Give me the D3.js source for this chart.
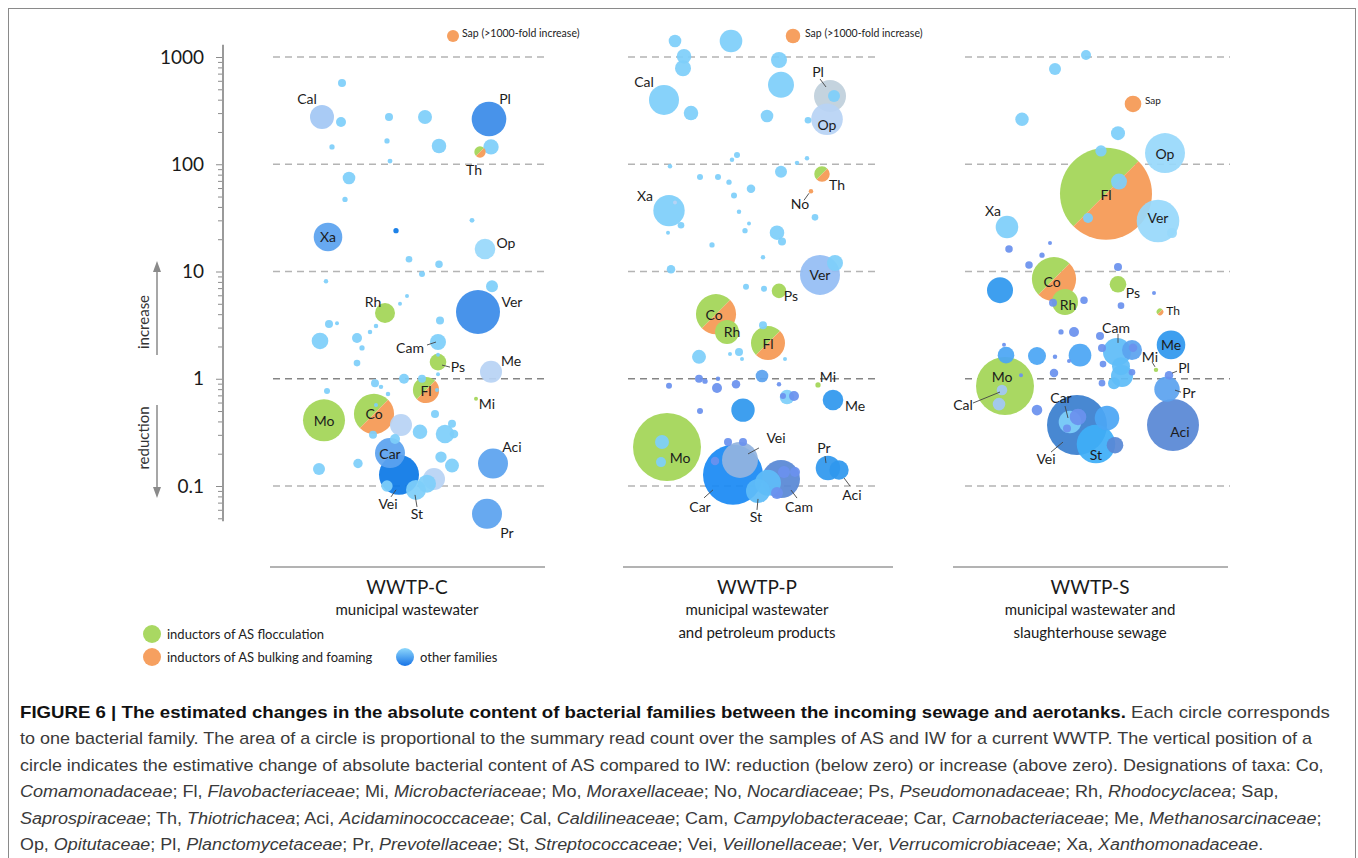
<!DOCTYPE html>
<html>
<head>
<meta charset="utf-8">
<script src="https://cdn.jsdelivr.net/npm/d3@7"></script>
<style>
  body { margin: 0; background: #fff; }
  svg { display: block; font-family: Lato, "Open Sans", sans-serif; }
</style>
</head>
<body>
<svg width="1358" height="858"></svg>
<script>
const svg = d3.select("svg");

// y axis ticks
const yTicks = [0.1, 1, 10, 100, 1000],
    yLabels = ["0.1", "1", "10", "100", "1000"];

const panelNames = ["WWTP-C", "WWTP-P", "WWTP-S"];
const panelSubs = [
    ["municipal wastewater"],
    ["municipal wastewater", "and petroleum products"],
    ["municipal wastewater and", "slaughterhouse sewage"]
];

// [family, horizontal slot, fold change, summary reads, group/tone]
const wwtpC = [
    ["Sap", 183, 1570, 36, "bulk"], ["", 72, 572, 16, "o1"], ["Cal", 52, 276, 144, "o4"],
    ["", 71, 248, 25, "o1"], ["", 62, 145, 7, "o1"], ["", 119, 276, 16, "o1"],
    ["", 117, 165, 7, "o1"], ["", 120, 107, 6, "o1"], ["", 155, 276, 49, "o1"],
    ["", 169, 148, 53, "o1"], ["Pl", 219, 264, 300, "o6"], ["Th", 210, 130, 32, "both"],
    ["", 221, 145, 59, "o1"], ["", 79, 74.5, 40, "o1"], ["", 75, 47, 7, "o1"],
    ["Xa", 58, 21, 204, "o5"], ["", 126, 24, 7, "o7"], ["", 202, 30, 6, "o1"],
    ["Op", 215, 16.2, 106, "o2"], ["", 139, 13, 11, "o1"], ["", 169, 11.7, 14, "o1"],
    ["", 152, 9.5, 9, "o1"], ["", 56, 8.1, 5, "o1"], ["", 222, 7.3, 36, "o1"],
    ["Rh", 115, 4.1, 100, "floc"], ["", 137, 5.9, 4, "o1"], ["", 130, 5.0, 4, "o1"],
    ["Ver", 208, 4.19, 484, "o6"], ["", 170, 3.5, 16, "o1"], ["", 59, 3.24, 16, "o1"],
    ["", 67, 3.3, 4, "o1"], ["", 106, 3.1, 5, "o1"], ["", 100, 2.73, 5, "o1"],
    ["", 50, 2.25, 69, "o1"], ["", 87, 2.4, 25, "o1"], ["Cam", 168, 2.2, 64, "o1"],
    ["", 92, 1.94, 7, "o1"], ["", 168, 1.67, 4, "o1"], ["Ps", 168, 1.43, 69, "floc"],
    ["", 87, 1.4, 11, "o1"], ["", 168, 1.1, 4, "o1"], ["Me", 221, 1.16, 121, "o3"],
    ["", 134, 1.0, 25, "o1"], ["", 152, 1.0, 16, "o1"], ["", 105, 0.91, 16, "o1"],
    ["", 111, 0.84, 5, "o1"], ["", 57, 0.77, 9, "o1"], ["Fl", 156, 0.785, 169, "both"],
    ["", 167, 0.785, 4, "o1"], ["", 118, 0.72, 5, "o1"], ["Mi", 206, 0.65, 4, "floc"],
    ["Mo", 54, 0.41, 441, "floc"], ["Co", 104, 0.47, 400, "both"], ["", 106, 0.57, 4, "o1"],
    ["", 165, 0.47, 16, "o1"], ["", 182, 0.38, 16, "o1"], ["", 131, 0.37, 121, "o3"],
    ["", 150, 0.32, 53, "o1"], ["", 175, 0.305, 86, "o1"], ["", 184, 0.305, 18, "o1"],
    ["", 103, 0.3, 16, "o1"], ["", 125, 0.274, 25, "o1"], ["Car", 120, 0.203, 225, "o5"],
    ["", 171, 0.186, 32, "o1"], ["", 182, 0.155, 49, "o1"], ["", 88, 0.162, 22, "o1"],
    ["", 49, 0.144, 36, "o1"], ["Aci", 223, 0.162, 225, "o5"], ["Vei", 129, 0.127, 400, "o7"],
    ["", 117, 0.1, 32, "o1"], ["", 164, 0.116, 121, "o3"], ["", 157, 0.105, 81, "o1"],
    ["St", 146, 0.092, 100, "o1"], ["Pr", 217, 0.055, 225, "o5"]
];

const wwtpP = [
    ["", 55, 1410, 40, "o1"], ["", 111, 1410, 128, "o1"], ["Sap", 173, 1570, 53, "bulk"],
    ["", 64, 1016, 53, "o1"], ["", 63, 785, 64, "o1"], ["Cal", 44, 398, 225, "o1"],
    ["", 71, 300, 53, "o1"], ["", 159, 937, 64, "o1"], ["", 161, 550, 169, "o1"],
    ["", 147, 282, 40, "o1"], ["Op", 207, 263, 250, "o3"], ["Pl", 210, 433, 256, "o11"],
    ["", 214, 433, 36, "o1"], ["", 188, 257, 11, "o1"], ["", 117, 122, 9, "o1"],
    ["", 112, 110, 5, "o1"], ["", 50, 96, 5, "o1"], ["", 177, 103, 5, "o1"],
    ["", 187, 114, 5, "o1"], ["", 161, 85, 36, "o1"], ["Th", 202, 81, 59, "both"],
    ["No", 191, 56, 5, "bulk"], ["", 80, 76, 9, "o1"], ["", 98, 76, 9, "o1"],
    ["", 109, 68, 7, "o1"], ["", 131, 59, 18, "o1"], ["", 114, 51, 9, "o1"],
    ["Xa", 49, 37, 246, "o1"], ["", 55, 44, 4, "o3"], ["", 61, 27, 11, "o1"],
    ["", 48, 23, 4, "o1"], ["", 119, 36, 5, "o1"], ["", 129, 28, 4, "o1"],
    ["", 125, 24, 7, "o1"], ["", 157, 23, 53, "o1"], ["", 162, 19, 16, "o1"],
    ["", 195, 32, 11, "o1"], ["", 92, 17.7, 7, "o1"], ["", 143, 13.6, 5, "o1"],
    ["Ver", 200, 9.3, 400, "o14"], ["", 215, 12, 64, "o1"], ["", 51, 10.5, 18, "o1"],
    ["", 126, 7.2, 9, "o1"], ["", 144, 6.9, 9, "o1"], ["Ps", 159, 6.6, 53, "floc"],
    ["Rh", 107, 2.73, 144, "floc"], ["Co", 96, 4.0, 400, "both"], ["Fl", 148, 2.15, 289, "both"],
    ["", 143, 3.16, 16, "o1"], ["", 79, 1.6, 49, "o1"], ["", 119, 1.78, 16, "o1"],
    ["", 110, 1.7, 4, "o1"], ["", 122, 1.53, 4, "o1"], ["", 165, 1.53, 4, "o1"],
    ["", 142, 1.06, 40, "o5"], ["", 79, 1.0, 16, "o8"], ["", 85, 0.95, 7, "o8"],
    ["", 98, 1.0, 5, "o8"], ["", 49, 0.86, 9, "o8"], ["", 97, 0.82, 25, "o8"],
    ["", 116, 0.89, 18, "o8"], ["", 159, 0.89, 5, "o8"], ["Mi", 198, 0.875, 7, "floc"],
    ["", 167, 0.675, 53, "o1"], ["", 174, 0.69, 25, "o8"], ["", 163, 0.69, 9, "o8"],
    ["Me", 213, 0.634, 106, "o10"], ["", 123, 0.51, 137, "o10"], ["", 80, 0.5, 9, "o8"],
    ["Mo", 47, 0.231, 1156, "floc"], ["", 42, 0.257, 49, "o1"], ["", 41, 0.167, 25, "o1"],
    ["Car", 113, 0.127, 900, "o15"], ["Cam", 161, 0.116, 361, "o9"], ["Vei", 120, 0.175, 324, "o12"],
    ["", 108, 0.257, 16, "o8"], ["", 123, 0.257, 16, "o8"], ["", 95, 0.171, 18, "o8"],
    ["", 148, 0.107, 169, "o13"], ["St", 138, 0.09, 144, "o13"], ["", 164, 0.135, 36, "o8"],
    ["", 175, 0.135, 25, "o8"], ["", 157, 0.086, 36, "o8"], ["Pr", 208, 0.147, 151, "o10"],
    ["Aci", 219, 0.141, 94, "o10"]
];

const wwtpS = [
    ["", 133, 1044, 25, "o1"], ["", 102, 773, 36, "o1"], ["Sap", 180, 365, 69, "bulk"],
    ["", 69, 263, 45, "o1"], ["", 165, 195, 49, "o1"], ["", 148, 133, 32, "o1"],
    ["Op", 212, 127, 400, "o2"], ["Fl", 153, 53, 2116, "both"], ["", 166, 69, 64, "o1"],
    ["", 135, 31.5, 25, "o1"], ["Ver", 205, 29.6, 454, "o2"], ["", 219, 22.8, 25, "o2"],
    ["Xa", 54, 26, 128, "o1"], ["", 56, 16.2, 14, "o8"], ["", 97, 18.4, 4, "o8"],
    ["", 89, 14.2, 7, "o8"], ["", 76, 11.5, 14, "o8"], ["", 165, 11, 16, "o8"],
    ["", 47, 6.7, 169, "o10"], ["Co", 101, 8.5, 484, "both"], ["Rh", 112, 5.2, 169, "floc"],
    ["", 100, 5.1, 16, "o8"], ["", 131, 5.4, 14, "o8"], ["Ps", 165, 7.6, 69, "floc"],
    ["", 201, 6.3, 4, "o8"], ["", 168, 4.8, 11, "o8"], ["Th", 207, 4.2, 11, "both"],
    ["", 108, 2.73, 7, "o8"], ["", 121, 2.73, 25, "o8"], ["", 147, 2.5, 16, "o8"],
    ["", 149, 1.94, 16, "o8"], ["", 150, 1.37, 11, "o8"], ["Cam", 164, 1.78, 196, "o13"],
    ["", 179, 1.85, 100, "o5"], ["", 180, 1.95, 18, "o8"], ["", 168, 1.31, 81, "o13"],
    ["", 169, 1.06, 121, "o13"], ["", 161, 0.91, 36, "o13"], ["", 149, 0.91, 11, "o8"],
    ["", 179, 1.15, 11, "o8"], ["Me", 218, 2.07, 204, "o10"], ["Mi", 203, 1.21, 5, "floc"],
    ["Pl", 216, 1.08, 18, "o8"], ["Pr", 214, 0.8, 161, "o5"], ["Aci", 220, 0.37, 676, "o9"],
    ["", 127, 1.66, 128, "o16"], ["", 84, 1.63, 81, "o16"], ["", 53, 1.66, 69, "o16"],
    ["", 51, 2.07, 4, "o8"], ["", 102, 1.6, 5, "o8"], ["", 116, 1.46, 4, "o8"],
    ["", 101, 1.13, 18, "o8"], ["", 68, 1.08, 4, "o8"], ["Mo", 52, 0.855, 841, "floc"],
    ["Cal", 49, 0.785, 28, "o4"], ["", 46, 0.58, 40, "o4"], ["", 84, 0.51, 28, "o8"],
    ["Vei", 124, 0.37, 900, "o17"], ["St", 143, 0.246, 372, "o18"], ["", 154, 0.43, 151, "o16"],
    ["Car", 117, 0.395, 128, "o1"], ["", 125, 0.44, 69, "o8"], ["", 114, 0.344, 16, "o8"],
    ["", 162, 0.24, 69, "o9"]
];

// label placement: [family, text, dx, dy, leader, anchor, size]
const labelsC = [
    ["Sap", "Sap (>1000-fold increase)", 9, -3, null, "start", 10.5],
    ["Cal", "Cal", -15, -18], ["Pl", "Pl", 16, -21], ["Th", "Th", -6, 17],
    ["Xa", "Xa", 0, 0], ["Op", "Op", 21, -7], ["Rh", "Rh", -12, -12],
    ["Ver", "Ver", 34, -11], ["Cam", "Cam", -28, 5, [-11, 3, -2, 0]],
    ["Ps", "Ps", 20, 4, [4, 3, 12, 5]], ["Me", "Me", 20, -11], ["Fl", "Fl", 0, 0],
    ["Mi", "Mi", 11, 5], ["Mo", "Mo", 0, 0], ["Co", "Co", 0, 0], ["Car", "Car", 0, 0],
    ["Aci", "Aci", 19, -17], ["Vei", "Vei", -11, 29, [-3, 15, -8, 22]],
    ["St", "St", 1, 24, [-1, 5, 1, 17]], ["Pr", "Pr", 20, 19]
];
const labelsP = [
    ["Sap", "Sap (>1000-fold increase)", 12, -3, null, "start", 10.5],
    ["Cal", "Cal", -20, -18], ["Pl", "Pl", -12, -24, [-10, -17, -4, -9]],
    ["Op", "Op", 0, 5], ["Th", "Th", 15, 10], ["No", "No", -11, 12, [-2, 2, -7, 9]],
    ["Xa", "Xa", -24, -15], ["Ver", "Ver", 0, 0], ["Ps", "Ps", 12, 5],
    ["Co", "Co", -2, 0], ["Rh", "Rh", 5, 0], ["Fl", "Fl", 0, 0], ["Mi", "Mi", 10, -8],
    ["Me", "Me", 22, 6], ["Mo", "Mo", 13, 10], ["Car", "Car", -33, 32, [-20, 15, -29, 23]],
    ["Vei", "Vei", 36, -22, [8, -6, 19, -12]], ["Cam", "Cam", 18, 27, [10, 11, 16, 19]],
    ["St", "St", -2, 26, [0, 8, -1, 19]], ["Pr", "Pr", -4, -21, [-3, -12, -2, -5]],
    ["Aci", "Aci", 13, 25, [5, 8, 11, 16]]
];
const labelsS = [
    ["Sap", "Sap", 12, -4, null, "start", 10], ["Op", "Op", 0, 0], ["Fl", "Fl", 0, 1],
    ["Ver", "Ver", 0, -3], ["Xa", "Xa", -14, -16], ["Co", "Co", -2, 2], ["Rh", "Rh", 3, 3],
    ["Ps", "Ps", 15, 8], ["Th", "Th", 13, -1, null, "middle", 12],
    ["Cam", "Cam", -1, -24, [1, -18, 1, -9]], ["Me", "Me", 0, 0],
    ["Mi", "Mi", -6, -13, [-4, -8, -1, -3]], ["Pl", "Pl", 15, -8, [3, -2, 8, -4]],
    ["Pr", "Pr", 22, 3, [8, 1, 14, 3]], ["Aci", "Aci", 7, 6], ["Mo", "Mo", -3, -10],
    ["Cal", "Cal", -39, 14, [-2, 2, -29, 13]], ["Vei", "Vei", -31, 33, [-14, 17, -26, 27]],
    ["Car", "Car", -9, -25, [-5, -16, -2, -4]], ["St", "St", 0, 10]
];

const legendItems = ["inductors of AS flocculation", "inductors of AS bulking and foaming", "other families"];

// caption lines, *italic*, **bold**
const captionLines = [
    "**FIGURE 6 | The estimated changes in the absolute content of bacterial families between the incoming sewage and aerotanks.** Each circle corresponds",
    "to one bacterial family. The area of a circle is proportional to the summary read count over the samples of AS and IW for a current WWTP. The vertical position of a",
    "circle indicates the estimative change of absolute bacterial content of AS compared to IW: reduction (below zero) or increase (above zero). Designations of taxa: Co,",
    "*Comamonadaceae*; Fl, *Flavobacteriaceae*; Mi, *Microbacteriaceae*; Mo, *Moraxellaceae*; No, *Nocardiaceae*; Ps, *Pseudomonadaceae*; Rh, *Rhodocyclacea*; Sap,",
    "*Saprospiraceae*; Th, *Thiotrichacea*; Aci, *Acidaminococcaceae*; Cal, *Caldilineaceae*; Cam, *Campylobacteraceae*; Car, *Carnobacteriaceae*; Me, *Methanosarcinaceae*;",
    "Op, *Opitutaceae*; Pl, *Planctomycetaceae*; Pr, *Prevotellaceae*; St, *Streptococcaceae*; Vei, *Veillonellaceae*; Ver, *Verrucomicrobiaceae*; Xa, *Xanthomonadaceae*."
];
const captionWidths = [1311, 1293, 1304, 1259, 1301, 1244];

// colours
const GREEN = "#a9d862", ORANGE = "#f6a060";
const tone = {
    floc: GREEN, bulk: ORANGE,
    o1: "#7ecffa", o2: "#98d8fb", o3: "#b8d3f4", o4: "#a3c7f4", o5: "#5ba2ef",
    o6: "#3a8be8", o7: "#0c79e6", o8: "#6a91ee", o9: "#5888d5", o10: "#2f98ee",
    o11: "#bfd0dc", o12: "#92b4df", o13: "#5fbcf8", o14: "#94bdf4", o15: "#1a8af4",
    o16: "#4ba6f4", o17: "#3a7fcf", o18: "#3eaef8"
};

// frame
svg.append("rect")
    .attr("x", 8.5).attr("y", 8.5)
    .attr("width", 1347).attr("height", 870)
    .attr("fill", "none").attr("stroke", "#8a8a8a");

// scales
const y = d3.scaleLog().domain([0.1, 1000]).range([486, 57]);
const r = d3.scaleSqrt().domain([0, 2500]).range([0, 50]);

// y axis
const axisX = 223;
svg.append("line")
    .attr("x1", axisX).attr("x2", axisX)
    .attr("y1", y(0.047)).attr("y2", y(1300))
    .attr("stroke", "#9a9a9a").attr("stroke-width", 2);

const minor = [];
[0.01, 0.1, 1, 10, 100].forEach(dec => {
    for (let i = 2; i <= 9; i++) {
        const v = +(i * dec).toPrecision(3);
        if (v >= 0.05) minor.push(v);
    }
});

const gMinor = svg.append("g")
    .attr("transform", `translate(${axisX - 1},0)`)
    .call(d3.axisLeft(y).tickValues(minor).tickSize(4).tickFormat(""));
gMinor.select(".domain").remove();
gMinor.selectAll("line").attr("stroke", "#8c8c8c");

const gMajor = svg.append("g")
    .attr("transform", `translate(${axisX - 1},0)`)
    .call(d3.axisLeft(y).tickValues(yTicks).tickSize(6).tickPadding(12)
        .tickFormat((d, i) => yLabels[i]));
gMajor.select(".domain").remove();
gMajor.selectAll("line").attr("stroke", "#8c8c8c");
gMajor.selectAll("text")
    .attr("font-family", "Lato, sans-serif")
    .attr("font-size", 19)
    .attr("fill", "#1a1a1a");

// increase / reduction arrows
function arrow(yFrom, yTo) {
    const dir = yTo < yFrom ? -1 : 1;
    svg.append("line")
        .attr("x1", 157).attr("x2", 157)
        .attr("y1", yFrom).attr("y2", yTo - dir * 8)
        .attr("stroke", "#8a8a8a").attr("stroke-width", 1.5);
    svg.append("path")
        .attr("d", `M153,${yTo - dir * 11} L157,${yTo} L161,${yTo - dir * 11} Z`)
        .attr("fill", "#8a8a8a");
}
arrow(355, 261);
arrow(405, 498);
[["increase", 322], ["reduction", 438]].forEach(([t, cy]) => {
    svg.append("text")
        .attr("transform", `translate(143,${cy}) rotate(-90)`)
        .attr("text-anchor", "middle")
        .attr("dominant-baseline", "central")
        .attr("font-size", 15)
        .attr("fill", "#333")
        .text(t);
});

const panels = [
    { bubbles: wwtpC, labels: labelsC, x0: 270, grid: [273, 545], base: [270, 545], cx: 407 },
    { bubbles: wwtpP, labels: labelsP, x0: 620, grid: [628, 880], base: [623, 893], cx: 757 },
    { bubbles: wwtpS, labels: labelsS, x0: 953, grid: [965, 1230], base: [953, 1228], cx: 1090 }
];

const halfArc = d3.arc().innerRadius(0);

panels.forEach((p, pi) => {
    const x = d3.scaleLinear().domain([0, 275]).range([p.x0, p.x0 + 275]);
    const g = svg.append("g");

    // dashed gridlines
    g.selectAll("line.grid")
        .data(yTicks)
        .enter()
        .append("line")
        .attr("class", "grid")
        .attr("x1", p.grid[0]).attr("x2", p.grid[1])
        .attr("y1", d => y(d)).attr("y2", d => y(d))
        .attr("stroke", d => d === 1 ? "#858585" : "#b4b4b4")
        .attr("stroke-width", 1.6)
        .attr("stroke-dasharray", "7,5");

    // bubbles, largest first
    const data = p.bubbles
        .map(d => ({ id: d[0], s: d[1], v: d[2], n: d[3], c: d[4] }))
        .sort((a, b) => b.n - a.n);

    data.forEach(d => {
        const cx = x(d.s), cy = y(d.v), rad = r(d.n);
        if (d.c === "both") {
            const gg = g.append("g").attr("transform", `translate(${cx},${cy})`);
            gg.append("path")
                .attr("d", halfArc({ outerRadius: rad, startAngle: -3 * Math.PI / 4, endAngle: Math.PI / 4 }))
                .attr("fill", GREEN);
            gg.append("path")
                .attr("d", halfArc({ outerRadius: rad, startAngle: Math.PI / 4, endAngle: 5 * Math.PI / 4 }))
                .attr("fill", ORANGE);
        } else {
            g.append("circle")
                .attr("cx", cx).attr("cy", cy).attr("r", rad)
                .attr("fill", tone[d.c])
                .attr("fill-opacity", d.c === "floc" || d.c === "bulk" ? 1 : 0.93);
        }
    });

    // labels
    const byId = new Map(data.filter(d => d.id).map(d => [d.id, d]));
    p.labels.forEach(([id, text, dx, dy, lead, anchor, size]) => {
        const d = byId.get(id);
        const cx = x(d.s), cy = y(d.v);
        if (lead) {
            g.append("line")
                .attr("x1", cx + lead[0]).attr("y1", cy + lead[1])
                .attr("x2", cx + lead[2]).attr("y2", cy + lead[3])
                .attr("stroke", "#444").attr("stroke-width", 0.9);
        }
        g.append("text")
            .attr("x", cx + dx).attr("y", cy + dy)
            .attr("text-anchor", anchor || "middle")
            .attr("dominant-baseline", "central")
            .attr("font-size", size || 14)
            .attr("fill", "#1c1c1c")
            .text(text);
    });

    // base line and titles
    g.append("line")
        .attr("x1", p.base[0]).attr("x2", p.base[1])
        .attr("y1", 567).attr("y2", 567)
        .attr("stroke", "#9a9a9a").attr("stroke-width", 1.5);
    g.append("text")
        .attr("x", p.cx).attr("y", 594)
        .attr("text-anchor", "middle")
        .attr("font-size", 19)
        .attr("fill", "#1a1a1a")
        .text(panelNames[pi]);
    panelSubs[pi].forEach((s, si) => {
        g.append("text")
            .attr("x", p.cx).attr("y", 615 + si * 23)
            .attr("text-anchor", "middle")
            .attr("font-size", 15)
            .attr("fill", "#1a1a1a")
            .text(s);
    });
});

// legend
const defs = svg.append("defs");
const grad = defs.append("linearGradient")
    .attr("id", "blueGrad").attr("x1", 0).attr("x2", 0).attr("y1", 0).attr("y2", 1);
grad.append("stop").attr("offset", "0%").attr("stop-color", "#8ed8fc");
grad.append("stop").attr("offset", "100%").attr("stop-color", "#1773e6");

const legendPos = [[152, 634], [152, 657], [405, 657]];
const legendFill = [GREEN, ORANGE, "url(#blueGrad)"];
legendItems.forEach((t, i) => {
    const [lx, ly] = legendPos[i];
    svg.append("circle").attr("cx", lx).attr("cy", ly).attr("r", 9).attr("fill", legendFill[i]);
    svg.append("text")
        .attr("x", lx + 15).attr("y", ly)
        .attr("dominant-baseline", "central")
        .attr("font-size", 13)
        .attr("fill", "#222")
        .text(t);
});

// caption
captionLines.forEach((line, i) => {
    const t = svg.append("text")
        .attr("x", 20).attr("y", 718 + i * 26.4)
        .attr("font-family", "'Liberation Sans', Arial, sans-serif")
        .attr("font-size", 16)
        .attr("fill", "#3a3a3a");
    line.split(/(\*\*[^*]+\*\*|\*[^*]+\*)/).filter(s => s.length).forEach(seg => {
        const ts = t.append("tspan");
        if (seg.startsWith("**")) {
            ts.text(seg.slice(2, -2)).attr("font-weight", "bold").attr("fill", "#111");
        } else if (seg.startsWith("*")) {
            ts.text(seg.slice(1, -1)).attr("font-style", "italic");
        } else {
            ts.text(seg);
        }
    });
    const w = t.node().getComputedTextLength();
    const k = captionWidths[i] / w;
    t.attr("transform", `translate(20,0) scale(${k},1) translate(-20,0)`);
});
</script>
</body>
</html>
